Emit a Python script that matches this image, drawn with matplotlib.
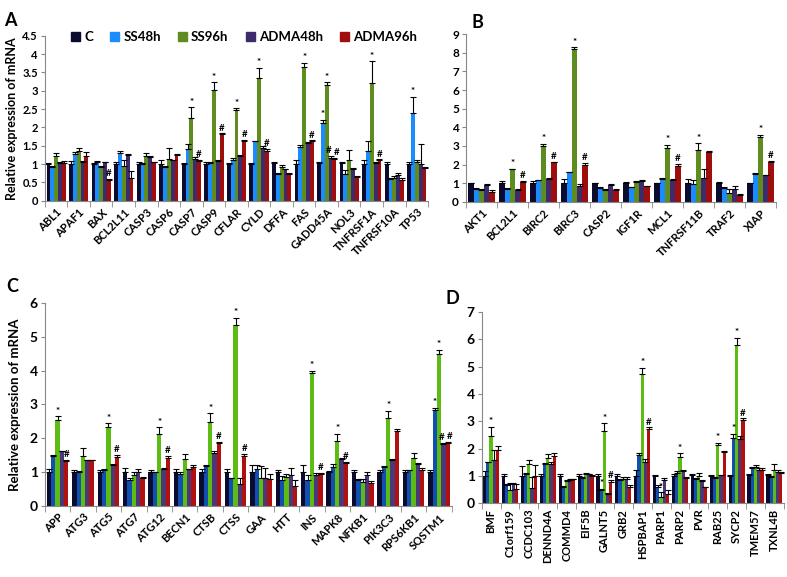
import numpy as np
import matplotlib
matplotlib.use("Agg")
import matplotlib.pyplot as plt
from matplotlib.patches import Patch

plt.rcParams['font.family'] = ['Lato', 'DejaVu Sans']
plt.rcParams['font.weight'] = 'bold'

series = ["C", "SS48h", "SS96h", "ADMA48h", "ADMA96h"]
colors_top = ["#0b0b30", "#1a8cff", "#5e8c1e", "#3d2b6b", "#a00d0d"]
colors_bottom = ["#0b0b30", "#1150b0", "#5cbc14", "#4a3878", "#b01010"]

# ---- panel A ----
a_genes = ["ABL1", "APAF1", "BAX", "BCL2L11", "CASP3", "CASP6", "CASP7", "CASP9", "CFLAR",
           "CYLD", "DFFA", "FAS", "GADD45A", "NOL3", "TNFRSF1A", "TNFRSF10A", "TP53"]
# rows: C, SS48h, SS96h, ADMA48h, ADMA96h
a_mean = [
    [1.0, 1.0, 1.0, 1.0, 1.0, 1.0, 1.0, 1.0, 1.0, 1.0, 1.02, 1.0, 1.02, 1.02, 1.0, 1.0, 1.0],
    [0.93, 1.28, 1.05, 1.3, 1.0, 0.92, 1.4, 1.02, 1.12, 1.62, 0.74, 1.48, 2.12, 0.74, 1.37, 0.6, 2.4],
    [1.22, 1.35, 0.93, 0.95, 1.22, 1.15, 2.25, 3.03, 2.47, 3.35, 0.92, 3.65, 3.17, 1.12, 3.2, 0.62, 1.05],
    [1.02, 1.07, 1.05, 1.25, 1.2, 1.1, 1.15, 1.08, 1.22, 1.44, 0.86, 1.57, 1.18, 0.86, 1.03, 0.7, 1.0],
    [1.02, 1.22, 0.57, 0.62, 1.05, 1.25, 1.08, 1.82, 1.62, 1.37, 0.73, 1.63, 1.14, 0.66, 1.1, 0.58, 0.9],
]
a_err = [
    [0.03, 0.08, 0.03, 0.05, 0.05, 0.1, 0.03, 0.05, 0.04, 0.03, 0.05, 0.1, 0.03, 0.03, 0.1, 0.05, 0.05],
    [0.03, 0.05, 0.03, 0.07, 0.02, 0.03, 0.15, 0.03, 0.05, 0.02, 0.03, 0.05, 0.08, 0.1, 0.25, 0.03, 0.43],
    [0.08, 0.08, 0.03, 0.15, 0.08, 0.28, 0.3, 0.2, 0.05, 0.27, 0.06, 0.12, 0.06, 0.26, 0.6, 0.05, 0.05],
    [0.03, 0.02, 0.02, 0.03, 0.03, 0.02, 0.05, 0.02, 0.03, 0.06, 0.02, 0.03, 0.05, 0.04, 0.03, 0.05, 0.55],
    [0.06, 0.1, 0.03, 0.18, 0.02, 0.03, 0.04, 0.02, 0.05, 0.05, 0.02, 0.02, 0.03, 0.02, 0.03, 0.03, 0.02],
]
a_marks = [("BAX", 4, "#"), ("CASP7", 2, "*"), ("CASP7", 4, "#"), ("CASP9", 2, "*"), ("CASP9", 4, "#"),
           ("CFLAR", 2, "*"), ("CFLAR", 4, "#"), ("CYLD", 2, "*"), ("CYLD", 4, "#"),
           ("FAS", 2, "*"), ("FAS", 4, "#"), ("GADD45A", 1, "*"), ("GADD45A", 2, "*"),
           ("GADD45A", 3, "#"), ("GADD45A", 4, "#"), ("TNFRSF1A", 2, "*"), ("TNFRSF1A", 4, "#"),
           ("TP53", 1, "*")]

# ---- panel B ----
b_genes = ["AKT1", "BCL2L1", "BIRC2", "BIRC3", "CASP2", "IGF1R", "MCL1", "TNFRSF11B", "TRAF2", "XIAP"]
b_mean = [
    [1.0, 1.0, 1.0, 1.0, 1.02, 1.0, 1.0, 1.0, 1.0, 1.02],
    [0.72, 0.72, 1.18, 1.58, 0.75, 0.8, 1.25, 0.95, 0.75, 1.5],
    [0.64, 1.76, 3.0, 8.22, 0.62, 1.05, 2.88, 2.78, 0.48, 3.5],
    [0.92, 0.65, 1.25, 0.88, 0.92, 1.1, 1.2, 1.3, 0.72, 1.45],
    [0.55, 1.08, 2.12, 2.0, 0.65, 0.85, 1.95, 2.7, 0.38, 2.15],
]
b_err = [
    [0.02, 0.1, 0.1, 0.25, 0.02, 0.07, 0.02, 0.22, 0.07, 0.02],
    [0.03, 0.02, 0.02, 0.03, 0.05, 0.02, 0.03, 0.23, 0.05, 0.05],
    [0.03, 0.03, 0.12, 0.06, 0.06, 0.05, 0.17, 0.36, 0.22, 0.1],
    [0.02, 0.02, 0.05, 0.07, 0.03, 0.05, 0.02, 0.45, 0.13, 0.02],
    [0.07, 0.04, 0.03, 0.08, 0.05, 0.02, 0.1, 0.05, 0.07, 0.05],
]
b_marks = [("BCL2L1", 2, "*"), ("BCL2L1", 4, "#"), ("BIRC2", 2, "*"), ("BIRC2", 4, "#"),
           ("BIRC3", 2, "*"), ("BIRC3", 4, "#"), ("MCL1", 2, "*"), ("MCL1", 4, "#"),
           ("TNFRSF11B", 2, "*"), ("XIAP", 2, "*"), ("XIAP", 4, "#")]

# ---- panel C ----
c_genes = ["APP", "ATG3", "ATG5", "ATG7", "ATG12", "BECN1", "CTSB", "CTSS", "GAA", "HTT", "INS",
           "MAPK8", "NFKB1", "PIK3C3", "RPS6KB1", "SQSTM1"]
c_mean = [
    [1.0, 1.02, 1.0, 1.0, 1.0, 1.0, 1.0, 1.0, 1.0, 1.0, 1.0, 1.02, 1.02, 1.0, 1.0, 1.0],
    [1.49, 1.02, 1.07, 0.78, 1.0, 0.95, 1.17, 0.82, 1.08, 0.78, 0.77, 1.15, 0.78, 1.15, 1.05, 2.85],
    [2.55, 1.48, 2.32, 0.92, 2.12, 1.4, 2.48, 5.35, 0.82, 0.85, 3.93, 1.93, 0.72, 2.6, 1.42, 4.5],
    [1.62, 1.35, 1.22, 1.02, 1.08, 1.08, 1.58, 0.65, 0.82, 0.92, 0.92, 1.38, 0.92, 1.37, 1.25, 1.82],
    [1.32, 1.35, 1.45, 0.83, 1.42, 1.15, 1.85, 1.47, 0.8, 0.6, 0.95, 1.27, 0.67, 2.22, 1.05, 1.85],
]
c_err = [
    [0.1, 0.03, 0.05, 0.12, 0.05, 0.08, 0.1, 0.1, 0.2, 0.05, 0.2, 0.02, 0.03, 0.05, 0.05, 0.05],
    [0.03, 0.02, 0.03, 0.04, 0.02, 0.05, 0.03, 0.02, 0.12, 0.1, 0.15, 0.08, 0.02, 0.02, 0.02, 0.05],
    [0.1, 0.22, 0.12, 0.08, 0.2, 0.15, 0.26, 0.2, 0.36, 0.1, 0.07, 0.2, 0.08, 0.21, 0.14, 0.12],
    [0.02, 0.02, 0.03, 0.08, 0.04, 0.02, 0.04, 0.17, 0.3, 0.2, 0.05, 0.04, 0.08, 0.02, 0.03, 0.05],
    [0.04, 0.02, 0.07, 0.02, 0.06, 0.07, 0.05, 0.08, 0.15, 0.17, 0.02, 0.03, 0.08, 0.05, 0.07, 0.05],
]
c_marks = [("APP", 2, "*"), ("APP", 4, "#"), ("ATG5", 2, "*"), ("ATG5", 4, "#"),
           ("ATG12", 2, "*"), ("ATG12", 4, "#"), ("CTSB", 2, "*"), ("CTSB", 4, "#"),
           ("CTSS", 2, "*"), ("CTSS", 4, "#"), ("INS", 2, "*"), ("INS", 4, "#"),
           ("MAPK8", 2, "*"), ("MAPK8", 4, "#"), ("PIK3C3", 2, "*"), ("SQSTM1", 1, "*"),
           ("SQSTM1", 2, "*"), ("SQSTM1", 3, "#"), ("SQSTM1", 4, "#")]

# ---- panel D ----
d_genes = ["BMF", "C1orf159", "CCDC103", "DENND4A", "COMMD4", "EIF5B", "GALNT5", "GRB2", "HSPBAP1",
           "PARP1", "PARP2", "PVR", "RAB25", "SYCP2", "TMEM57", "TXNL4B"]
d_mean = [
    [1.0, 1.0, 1.0, 1.0, 1.0, 1.0, 1.0, 1.0, 1.0, 1.0, 1.0, 1.02, 1.0, 1.0, 1.02, 1.02],
    [1.49, 0.67, 1.08, 1.42, 0.6, 0.92, 0.5, 0.85, 1.75, 0.6, 1.12, 0.9, 0.92, 2.4, 1.28, 0.95],
    [2.47, 0.49, 1.45, 1.65, 0.82, 1.05, 2.65, 0.9, 4.75, 0.22, 1.68, 1.0, 2.12, 5.8, 1.32, 1.22],
    [1.59, 0.69, 0.55, 1.45, 0.85, 1.05, 0.35, 0.88, 1.5, 0.85, 1.18, 0.82, 1.02, 2.35, 1.22, 1.15],
    [1.96, 0.52, 1.0, 1.72, 0.87, 1.0, 0.78, 0.6, 2.7, 0.35, 0.92, 0.58, 1.88, 3.05, 1.22, 1.12],
]
d_err = [
    [0.16, 0.05, 0.35, 0.05, 0.05, 0.05, 0.05, 0.05, 0.2, 0.02, 0.05, 0.03, 0.03, 0.02, 0.03, 0.03],
    [0.03, 0.03, 0.02, 0.05, 0.02, 0.02, 0.02, 0.05, 0.1, 0.08, 0.06, 0.02, 0.02, 0.15, 0.04, 0.03],
    [0.32, 0.23, 0.13, 0.15, 0.03, 0.05, 0.27, 0.05, 0.2, 0.18, 0.14, 0.1, 0.08, 0.25, 0.06, 0.23],
    [0.37, 0.06, 0.4, 0.05, 0.02, 0.03, 0.03, 0.07, 0.1, 0.07, 0.02, 0.03, 0.02, 0.1, 0.06, 0.05],
    [0.12, 0.18, 0.4, 0.13, 0.02, 0.02, 0.05, 0.05, 0.08, 0.13, 0.02, 0.02, 0.02, 0.06, 0.06, 0.03],
]
d_marks = [("BMF", 2, "*"), ("GALNT5", 1, "*"), ("GALNT5", 2, "*"), ("GALNT5", 4, "#"),
           ("HSPBAP1", 2, "*"), ("HSPBAP1", 4, "#"), ("PARP1", 2, "*"), ("PARP2", 2, "*"),
           ("RAB25", 2, "*"), ("SYCP2", 1, "*"), ("SYCP2", 2, "*"), ("SYCP2", 4, "#")]


def draw_panel(ax, genes, mean, err, marks, colors, ymax, rot, ytick_fs):
    n = len(genes)
    x = np.arange(n)
    w = 0.17
    for i in range(5):
        xs = x + (i - 2) * w
        ax.bar(xs, mean[i], w, color=colors[i], linewidth=0)
        ax.errorbar(xs, mean[i], yerr=[np.zeros(n), err[i]], fmt='none', ecolor='black',
                    elinewidth=0.8, capsize=2, capthick=0.8)
    for gene, s, sym in marks:
        j = genes.index(gene)
        # two neighbouring marks on one gene: pull them apart a little
        dx = -1.5 if (s == 3 and (gene, 4, "#") in marks) else (1.5 if (s == 4 and (gene, 3, "#") in marks) else 0)
        ax.annotate(sym, (j + (s - 2) * w, mean[s][j] + err[s][j]), xytext=(dx, 0.5),
                    textcoords='offset points', ha='center', va='bottom', fontsize=7,
                    fontweight='bold')
    ax.set_xlim(-0.5, n - 0.5)
    ax.set_ylim(0, ymax)
    if ymax == 4.5:
        yt = np.arange(0, ymax + 1e-9, 0.5)
    else:
        yt = np.arange(0, ymax + 1e-9, 1)
    ax.set_yticks(yt)
    ax.set_yticklabels(["%g" % v for v in yt], fontsize=ytick_fs, fontweight='bold')
    ax.set_xticks(x)
    if rot == 90:
        ax.set_xticklabels(genes, rotation=90, fontsize=8, fontweight='bold')
    else:
        ax.set_xticklabels(genes, rotation=rot, ha='right', rotation_mode='anchor',
                           fontsize=8, fontweight='bold')
    ax.tick_params(axis='x', which='major', length=0, pad=4)
    ax.set_xticks(np.arange(-0.5, n, 1), minor=True)
    ax.tick_params(axis='x', which='minor', length=4, color='#888888')
    ax.tick_params(axis='y', length=3, color='#888888', pad=2)
    for sp in ['top', 'right']:
        ax.spines[sp].set_visible(False)
    ax.spines['left'].set_color('#888888')
    ax.spines['bottom'].set_color('#888888')


fig = plt.figure(figsize=(7.87, 5.77), dpi=100)

ax_a = fig.add_axes([0.057, 0.652, 0.487, 0.286])
draw_panel(ax_a, a_genes, a_mean, a_err, a_marks, colors_top, 4.5, 45, 8)
ax_b = fig.add_axes([0.592, 0.650, 0.394, 0.291])
draw_panel(ax_b, b_genes, b_mean, b_err, b_marks, colors_top, 9, 45, 8.5)
ax_c = fig.add_axes([0.057, 0.123, 0.517, 0.352])
draw_panel(ax_c, c_genes, c_mean, c_err, c_marks, colors_bottom, 6, 45, 10)
ax_d = fig.add_axes([0.612, 0.128, 0.384, 0.331])
draw_panel(ax_d, d_genes, d_mean, d_err, d_marks, colors_bottom, 7, 90, 10)

ax_a.set_ylabel("Relative expression of mRNA", fontsize=9, fontweight='bold', labelpad=3)
ax_c.set_ylabel("Relative expression of mRNA", fontsize=9.5, fontweight='bold', labelpad=6)

for lbl, (px, py) in zip("ABCD", [(10, 20), (477, 23), (12, 286), (452, 298)]):
    fig.text(px / 787, 1 - py / 577, lbl, fontsize=13, fontweight='bold', ha='center', va='center')

handles = [Patch(color=c) for c in colors_top]
fig.legend(handles, series, loc='center', bbox_to_anchor=(0.31, 0.936), ncol=5, frameon=False,
           handlelength=0.7, handleheight=0.7, handletextpad=0.3, columnspacing=1.3,
           prop={'size': 9.5, 'weight': 'bold'})

fig.savefig("out.png", dpi=100)
